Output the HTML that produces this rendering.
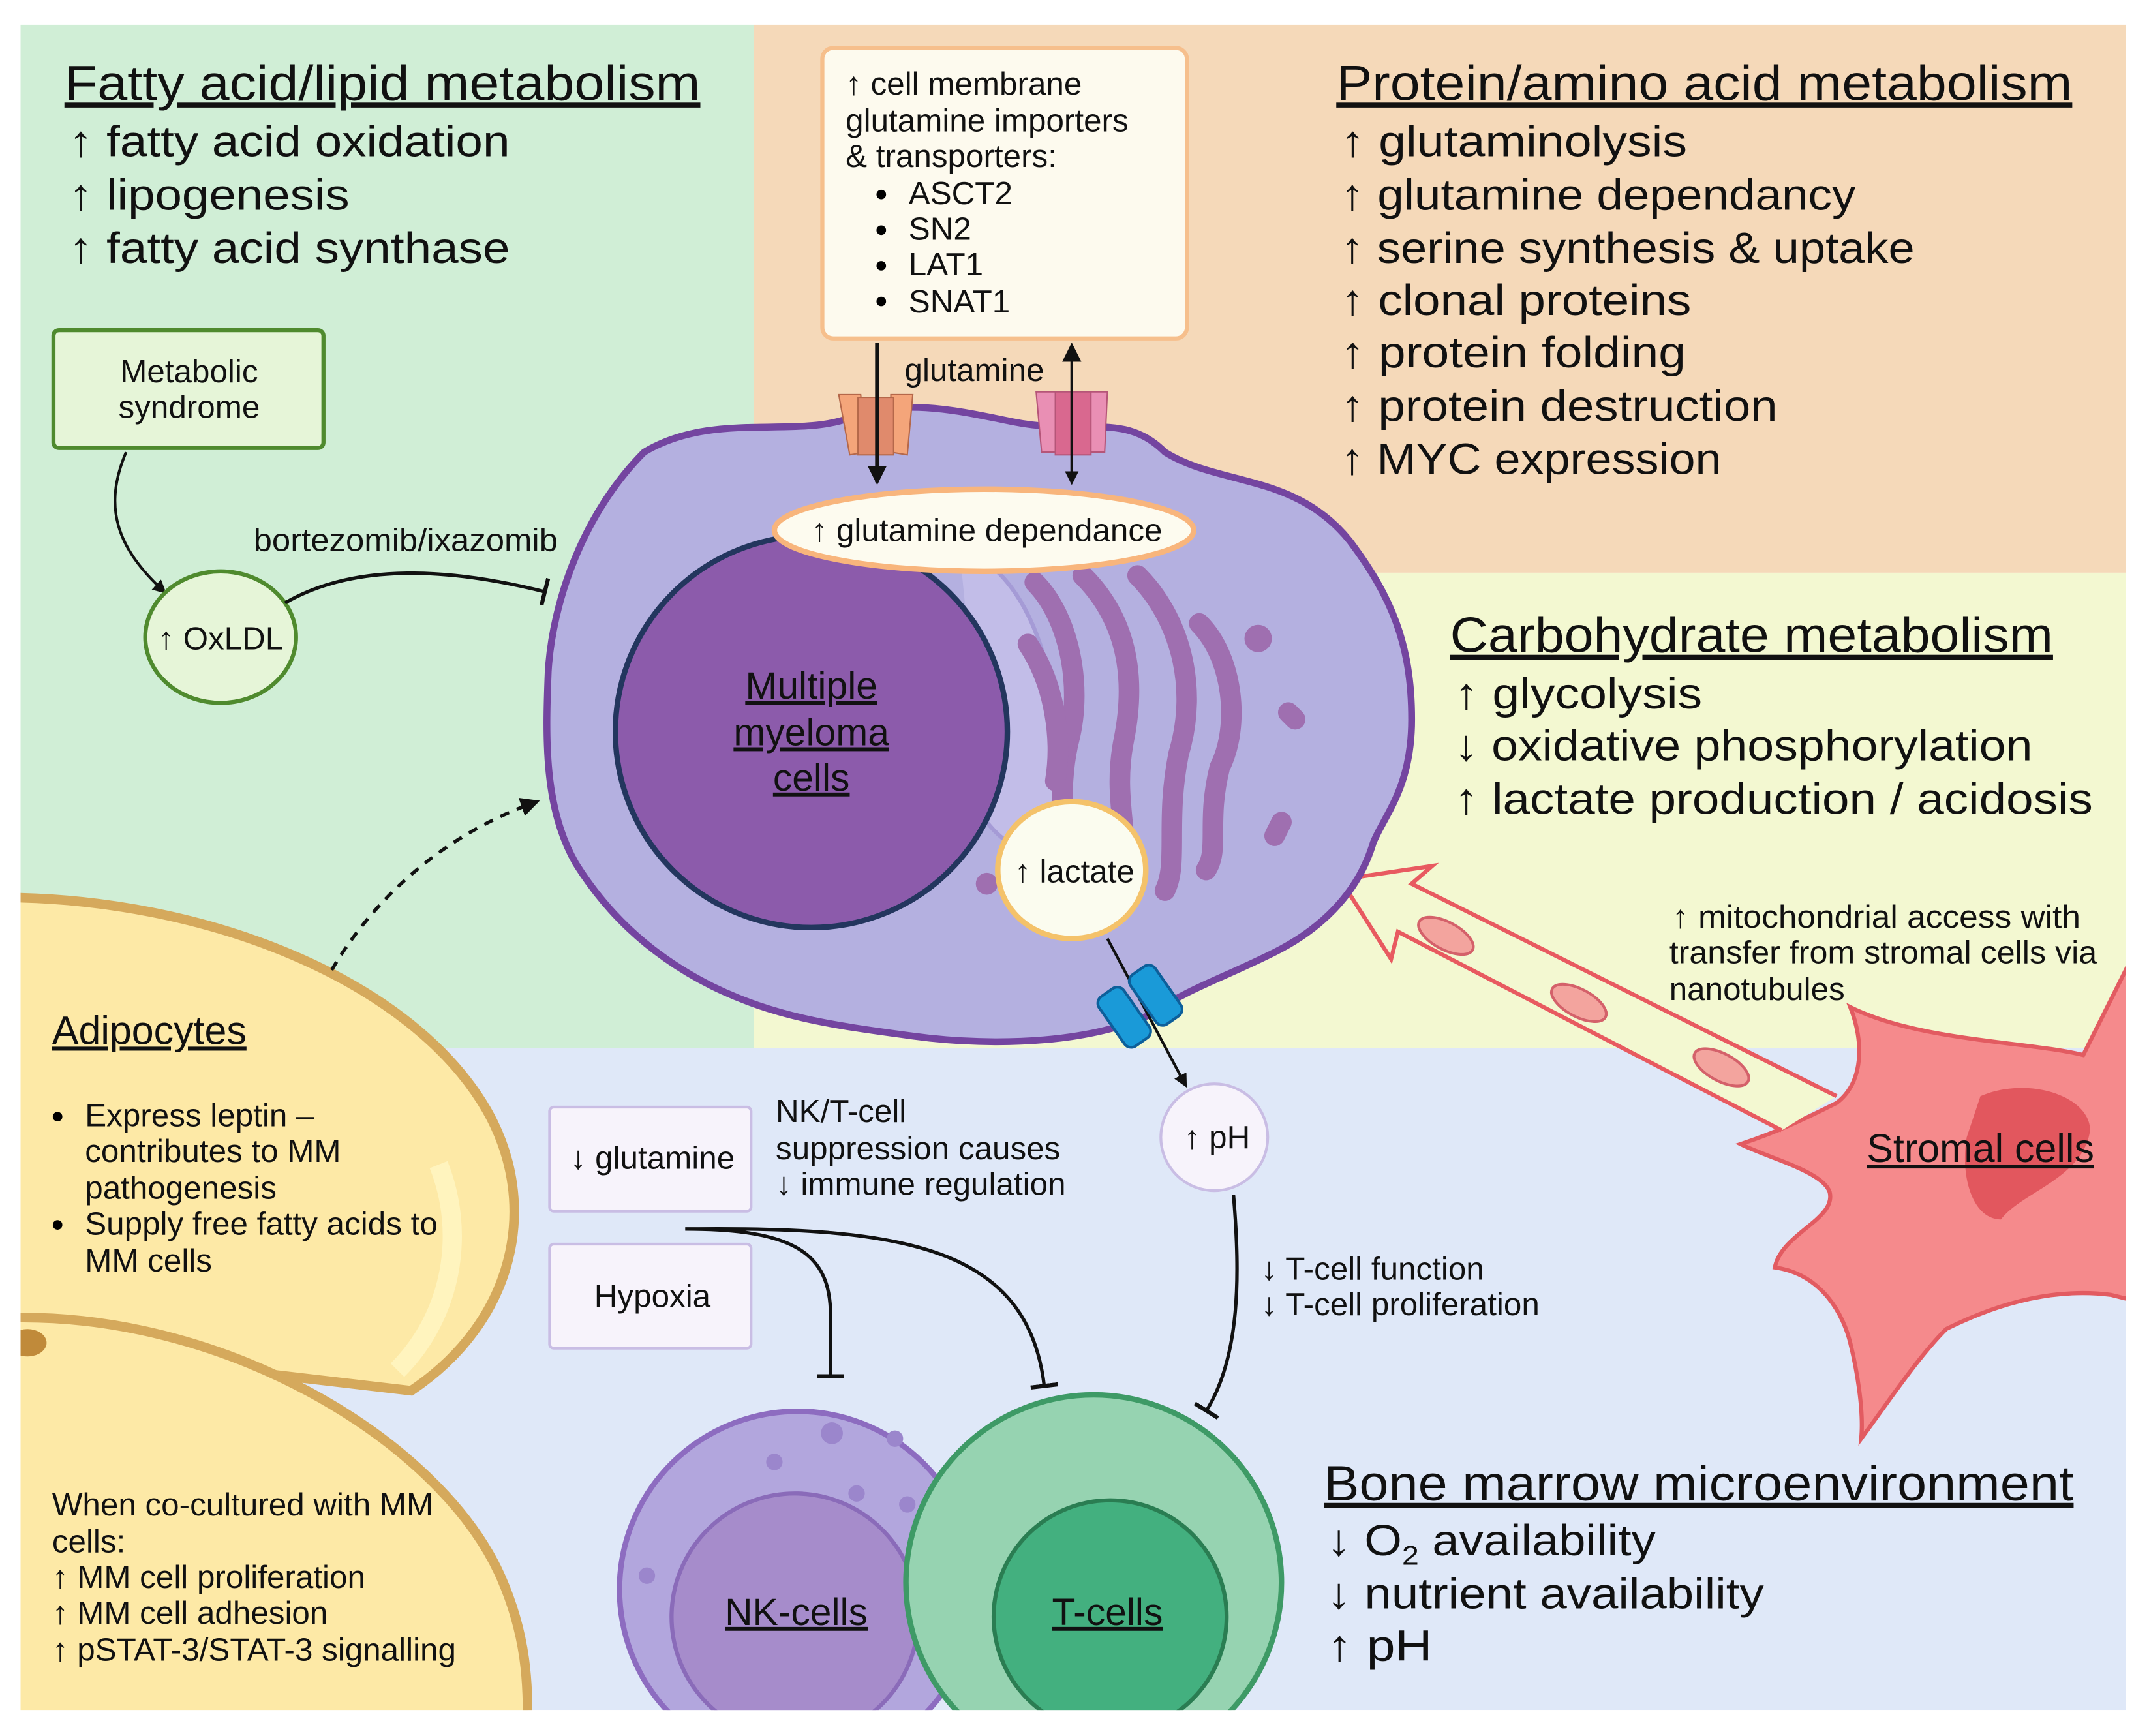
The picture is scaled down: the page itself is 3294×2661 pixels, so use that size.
<!DOCTYPE html>
<html><head><meta charset="utf-8"><style>
html,body{margin:0;padding:0;background:#fff}
svg{display:block}
text{font-family:"Liberation Sans",sans-serif;fill:#111}
.h{font-size:36px;text-decoration:underline}
.b{font-size:32px}
.s{font-size:21px}
.m{font-size:23.5px}
</style></head><body>
<svg width="3294" height="2661" viewBox="0 0 1568 1267" preserveAspectRatio="none" xmlns="http://www.w3.org/2000/svg">
<defs>
<marker id="ar" markerWidth="10" markerHeight="10" refX="8" refY="5" orient="auto" markerUnits="userSpaceOnUse"><path d="M0,0 L10,5 L0,10 Z" fill="#111"/></marker>
<marker id="ar2" markerWidth="14" markerHeight="14" refX="12" refY="7" orient="auto" markerUnits="userSpaceOnUse"><path d="M0,0 L14,7 L0,14 Z" fill="#111"/></marker>
<marker id="ars" markerWidth="14" markerHeight="14" refX="2" refY="7" orient="auto" markerUnits="userSpaceOnUse"><path d="M14,0 L0,7 L14,14 Z" fill="#111"/></marker>
<marker id="tb" markerWidth="4" markerHeight="20" refX="2" refY="10" orient="auto" markerUnits="userSpaceOnUse"><rect x="0" y="0" width="3" height="20" fill="#111"/></marker>
<clipPath id="cp"><rect x="15" y="18" width="1536" height="1230"/></clipPath>
</defs>
<rect width="1568" height="1267" fill="#fff"/>
<g clip-path="url(#cp)">
<rect x="15" y="18" width="535" height="747" fill="#d0eed6"/>
<rect x="550" y="18" width="1001" height="400" fill="#f5d9b9"/>
<rect x="550" y="418" width="1001" height="347" fill="#f3f8d1"/>
<rect x="15" y="765" width="1536" height="483" fill="#dfe8f8"/>

<path d="M0,655 C150,655 300,715 355,810 C395,880 375,965 300,1015 L0,980 Z" fill="#fde9a6" stroke="#d5a95c" stroke-width="7"/>
<path d="M320,850 C340,900 330,960 290,1000" fill="none" stroke="#fff6c4" stroke-width="14" opacity="0.8"/>
<path d="M0,962 C160,955 320,1050 365,1150 C385,1195 385,1230 385,1260 L0,1260 Z" fill="#fde9a6" stroke="#d5a95c" stroke-width="7"/>
<ellipse cx="20" cy="980" rx="14" ry="10" fill="#c08a3a"/>

<path d="M1560,690 L1520,770 C1480,760 1400,760 1350,735 C1360,760 1360,790 1340,805 C1320,815 1300,825 1270,835 C1290,845 1330,855 1335,870 C1340,890 1300,900 1295,925 C1330,930 1345,960 1350,980 C1355,1000 1360,1030 1358,1050 C1380,1020 1400,990 1420,970 C1460,950 1500,940 1540,945 L1560,950 Z" fill="#f58a8c" stroke="#e25b61" stroke-width="3"/>
<path d="M1445,800 C1480,785 1525,800 1525,825 C1520,860 1475,870 1460,890 C1440,890 1430,860 1435,830 Z" fill="#e2575e"/>

<path d="M1340,800 L1030,645 L1045,632 L978,642 L1015,700 L1020,680 L1300,825" fill="#f3f8d1" stroke="#e85a60" stroke-width="3" stroke-linejoin="miter"/>
<g fill="#f3a49e" stroke="#d4616a" stroke-width="2">
<ellipse cx="1055" cy="683" rx="22" ry="10" transform="rotate(28 1055 683)"/>
<ellipse cx="1152" cy="732" rx="22" ry="10" transform="rotate(28 1152 732)"/>
<ellipse cx="1256" cy="779" rx="22" ry="10" transform="rotate(28 1256 779)"/>
</g>
</g>

<path d="M470,330 C520,300 580,320 620,305 C660,290 700,300 740,308 C790,318 820,300 850,330 C890,355 945,345 985,395 C1015,435 1030,470 1030,525 C1030,575 1010,595 1002,615 C990,655 960,680 930,695 C890,715 870,720 840,740 C800,760 730,765 665,756 C605,748 565,742 520,720 C470,695 440,662 420,630 C397,590 398,540 400,490 C403,440 425,375 470,330 Z" fill="#b4b0e0" stroke="#7445a0" stroke-width="5"/>
<path d="M700,400 C760,420 780,520 770,600 C765,630 740,625 720,600" fill="#c2bde8" stroke="#a59bd6" stroke-width="3"/>
<g fill="none" stroke="#9f6fb0" stroke-width="15" stroke-linecap="round">
<path d="M755,425 C780,450 790,500 780,540 C770,580 780,620 770,650"/>
<path d="M790,420 C820,450 830,490 820,540 C810,590 830,620 815,660"/>
<path d="M830,420 C860,450 875,500 860,550 C850,600 860,630 850,650"/>
<path d="M750,470 C770,500 775,540 770,570"/>
<path d="M875,455 C900,480 905,530 890,560 C880,600 890,620 880,635"/>
<path d="M935,600 L930,610"/>
<path d="M940,520 L945,525"/>
</g>
<circle cx="918" cy="466" r="10" fill="#9f6fb0"/>
<circle cx="720" cy="645" r="8" fill="#9f6fb0"/>
<circle cx="592" cy="534" r="143" fill="#8c5bab" stroke="#23365e" stroke-width="4"/>
<text x="592" y="510" text-anchor="middle" class="b" style="font-size:28px;text-decoration:underline">Multiple</text>
<text x="592" y="544" text-anchor="middle" class="b" style="font-size:28px;text-decoration:underline">myeloma</text>
<text x="592" y="577" text-anchor="middle" class="b" style="font-size:28px;text-decoration:underline">cells</text>

<g stroke="#b5684a" stroke-width="1">
<path d="M612,288 L628,288 L632,330 L620,332 Z" fill="#f4a57a"/>
<path d="M650,288 L666,288 L662,332 L650,330 Z" fill="#f4a57a"/>
<rect x="626" y="290" width="26" height="42" fill="#e08a6c"/>
</g>
<g stroke="#b55578" stroke-width="1">
<path d="M756,286 L772,286 L772,330 L760,330 Z" fill="#e98fb4"/>
<path d="M794,286 L808,286 L806,330 L794,330 Z" fill="#e98fb4"/>
<rect x="770" y="286" width="26" height="46" fill="#d9688f"/>
</g>
<line x1="640" y1="250" x2="640" y2="352" stroke="#111" stroke-width="3" marker-end="url(#ar2)"/>
<line x1="782" y1="252" x2="782" y2="352" stroke="#111" stroke-width="2" marker-end="url(#ar)" marker-start="url(#ars)"/>
<text x="660" y="278" class="m">glutamine</text>

<ellipse cx="718" cy="387" rx="153" ry="30" fill="#fdfbef" stroke="#f8b57c" stroke-width="4"/>
<text x="720" y="395" text-anchor="middle" class="m">↑ glutamine dependance</text>

<ellipse cx="782" cy="635" rx="54" ry="50" fill="#fbfcef" stroke="#f4c26a" stroke-width="4"/>
<text x="784" y="644" text-anchor="middle" class="m">↑ lactate</text>
<line x1="808" y1="685" x2="865" y2="792" stroke="#111" stroke-width="2" marker-end="url(#ar)"/>
<g transform="rotate(-35 832 733)">
<rect x="806" y="712" width="22" height="44" rx="6" fill="#1a9ad8" stroke="#0d5f9a" stroke-width="2"/>
<rect x="834" y="712" width="22" height="44" rx="6" fill="#1a9ad8" stroke="#0d5f9a" stroke-width="2"/>
</g>

<rect x="600" y="35" width="266" height="212" rx="8" fill="#fdfaee" stroke="#f6bf8c" stroke-width="3"/>
<text x="617" y="69" class="m"><tspan>↑ cell membrane</tspan><tspan x="617" dy="27">glutamine importers</tspan><tspan x="617" dy="26">&amp; transporters:</tspan></text>
<g class="m"><circle cx="643" cy="142" r="3.5"/><circle cx="643" cy="168" r="3.5"/><circle cx="643" cy="194" r="3.5"/><circle cx="643" cy="220" r="3.5"/></g>
<text x="663" y="149" class="m">ASCT2</text>
<text x="663" y="175" class="m">SN2</text>
<text x="663" y="201" class="m">LAT1</text>
<text x="663" y="228" class="m">SNAT1</text>

<text x="47" y="73" class="h" textLength="464" lengthAdjust="spacingAndGlyphs">Fatty acid/lipid metabolism</text>
<text x="50" y="114" class="b" textLength="322" lengthAdjust="spacingAndGlyphs">↑  fatty acid oxidation</text>
<text x="50" y="153" class="b" textLength="205" lengthAdjust="spacingAndGlyphs">↑  lipogenesis</text>
<text x="50" y="192" class="b" textLength="322" lengthAdjust="spacingAndGlyphs">↑  fatty acid synthase</text>
<rect x="39" y="241" width="197" height="86" rx="4" fill="#e6f5d8" stroke="#4f8a2e" stroke-width="3"/>
<text x="138" y="279" text-anchor="middle" class="m">Metabolic</text>
<text x="138" y="305" text-anchor="middle" class="m">syndrome</text>
<path d="M92,330 C75,370 85,400 120,432" fill="none" stroke="#111" stroke-width="2" marker-end="url(#ar)"/>
<ellipse cx="161" cy="465" rx="55" ry="48" fill="#e6f5d8" stroke="#4f8a2e" stroke-width="3"/>
<text x="161" y="474" text-anchor="middle" class="m">↑ OxLDL</text>
<path d="M208,440 C260,410 330,415 398,432" fill="none" stroke="#111" stroke-width="2.5" marker-end="url(#tb)"/>
<text x="185" y="402" class="m" textLength="222" lengthAdjust="spacingAndGlyphs">bortezomib/ixazomib</text>
<path d="M242,708 C270,660 320,610 392,585" fill="none" stroke="#111" stroke-width="2.5" stroke-dasharray="7,6" marker-end="url(#ar2)"/>

<text x="975" y="73" class="h" textLength="537" lengthAdjust="spacingAndGlyphs">Protein/amino acid metabolism</text>
<g class="b">
<text x="978" y="114" textLength="253" lengthAdjust="spacingAndGlyphs">↑  glutaminolysis</text>
<text x="978" y="153" textLength="376" lengthAdjust="spacingAndGlyphs">↑  glutamine dependancy</text>
<text x="978" y="192" textLength="419" lengthAdjust="spacingAndGlyphs">↑  serine synthesis &amp; uptake</text>
<text x="978" y="230" textLength="256" lengthAdjust="spacingAndGlyphs">↑  clonal proteins</text>
<text x="978" y="268" textLength="252" lengthAdjust="spacingAndGlyphs">↑  protein folding</text>
<text x="978" y="307" textLength="319" lengthAdjust="spacingAndGlyphs">↑  protein destruction</text>
<text x="978" y="346" textLength="278" lengthAdjust="spacingAndGlyphs">↑  MYC expression</text></g>

<text x="1058" y="476" class="h" textLength="440" lengthAdjust="spacingAndGlyphs">Carbohydrate metabolism</text>
<g class="b">
<text x="1061" y="517" textLength="181" lengthAdjust="spacingAndGlyphs">↑  glycolysis</text>
<text x="1061" y="555" textLength="422" lengthAdjust="spacingAndGlyphs">↓  oxidative phosphorylation</text>
<text x="1061" y="594" textLength="466" lengthAdjust="spacingAndGlyphs">↑  lactate production / acidosis</text></g>
<text x="1220" y="677" class="m" textLength="298" lengthAdjust="spacingAndGlyphs">↑ mitochondrial access with</text>
<text x="1218" y="703" class="m" textLength="312" lengthAdjust="spacingAndGlyphs">transfer from stromal cells via</text>
<text x="1218" y="730" class="m">nanotubules</text>
<text x="1445" y="848" text-anchor="middle" class="b" style="font-size:29px;text-decoration:underline">Stromal cells</text>

<text x="38" y="762" class="b" style="font-size:29px;text-decoration:underline">Adipocytes</text>
<g class="m"><circle cx="42" cy="815" r="3.5"/><circle cx="42" cy="894" r="3.5"/></g>
<text x="62" y="822" class="m">Express leptin –</text>
<text x="62" y="848" class="m">contributes to MM</text>
<text x="62" y="875" class="m">pathogenesis</text>
<text x="62" y="901" class="m">Supply free fatty acids to</text>
<text x="62" y="928" class="m">MM cells</text>
<text x="38" y="1106" class="m">When co-cultured with MM</text>
<text x="38" y="1133" class="m">cells:</text>
<text x="38" y="1159" class="m">↑  MM cell proliferation</text>
<text x="38" y="1185" class="m">↑  MM cell adhesion</text>
<text x="38" y="1212" class="m">↑  pSTAT-3/STAT-3 signalling</text>

<rect x="401" y="808" width="147" height="76" rx="3" fill="#f7f3fb" stroke="#c9bde4" stroke-width="2"/>
<text x="476" y="853" text-anchor="middle" class="m">↓ glutamine</text>
<rect x="401" y="908" width="147" height="76" rx="3" fill="#f7f3fb" stroke="#c9bde4" stroke-width="2"/>
<text x="476" y="954" text-anchor="middle" class="m">Hypoxia</text>
<text x="566" y="819" class="m">NK/T-cell</text>
<text x="566" y="846" class="m">suppression causes</text>
<text x="566" y="872" class="m">↓ immune regulation</text>
<circle cx="886" cy="830" r="39" fill="#f7f3fb" stroke="#c9bde4" stroke-width="2"/>
<text x="888" y="838" text-anchor="middle" class="m">↑ pH</text>
<text x="920" y="934" class="m">↓ T-cell function</text>
<text x="920" y="960" class="m">↓ T-cell proliferation</text>
<path d="M500,897 C580,897 606,915 606,960 L606,1005" fill="none" stroke="#111" stroke-width="2.5" marker-end="url(#tb)"/>
<path d="M500,897 C660,895 750,910 762,1012" fill="none" stroke="#111" stroke-width="2.5" marker-end="url(#tb)"/>
<path d="M900,872 C905,930 905,990 880,1030" fill="none" stroke="#111" stroke-width="2.5" marker-end="url(#tb)"/>

<g clip-path="url(#cp)">
<circle cx="582" cy="1160" r="130" fill="#b2a6dd" stroke="#8d6cc0" stroke-width="4"/>
<ellipse cx="580" cy="1180" rx="90" ry="90" fill="#a68ccb" stroke="#8a6bb9" stroke-width="3" transform="rotate(-20 580 1180)"/>
<g fill="#9b86cc"><circle cx="607" cy="1046" r="8"/><circle cx="653" cy="1050" r="6"/><circle cx="565" cy="1067" r="6"/><circle cx="625" cy="1090" r="6"/><circle cx="662" cy="1098" r="6"/><circle cx="472" cy="1150" r="6"/></g>
<text x="581" y="1186" text-anchor="middle" class="b" style="font-size:28px;text-decoration:underline">NK-cells</text>
<circle cx="798" cy="1155" r="137" fill="#96d3b1" stroke="#3e9a66" stroke-width="4"/>
<circle cx="810" cy="1180" r="85" fill="#43b07f" stroke="#2a7d52" stroke-width="3"/>
<text x="808" y="1186" text-anchor="middle" class="b" style="font-size:28px;text-decoration:underline">T-cells</text>
</g>

<text x="966" y="1095" class="h" textLength="547" lengthAdjust="spacingAndGlyphs">Bone marrow microenvironment</text>
<g class="b">
<text x="968" y="1135" textLength="240" lengthAdjust="spacingAndGlyphs">↓  O<tspan font-size="20" dy="7">2</tspan><tspan dy="-7"> availability</tspan></text>
<text x="968" y="1174" textLength="319" lengthAdjust="spacingAndGlyphs">↓  nutrient availability</text>
<text x="968" y="1212" textLength="77" lengthAdjust="spacingAndGlyphs">↑  pH</text></g>
</svg>
</body></html>
